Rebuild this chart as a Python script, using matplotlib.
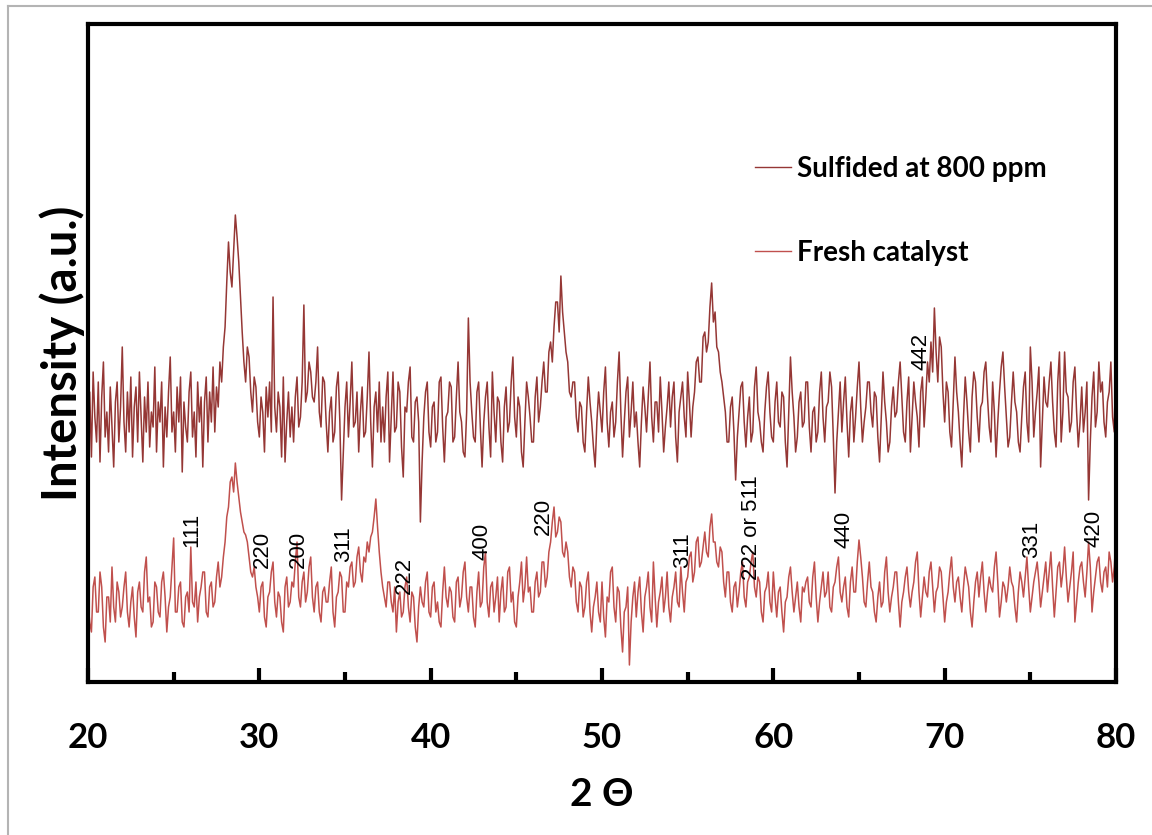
import matplotlib
matplotlib.use("Agg")
import matplotlib.pyplot as plt
from matplotlib.lines import Line2D
from matplotlib.ticker import MultipleLocator
import numpy as np

# 2-theta grid: 20 to 80 deg, step 0.1
two_theta = np.round(np.arange(20.0, 80.0001, 0.1), 1)

sulfided = [
    250, 290, 225, 310, 265, 240, 300, 220, 285, 320, 245, 270, 230, 295, 255, 215, 280, 300, 240, 275,
    335, 260, 230, 290, 250, 305, 225, 275, 295, 240, 310, 265, 220, 285, 250, 300, 235, 270, 255, 315,
    230, 280, 260, 300, 215, 275, 245, 290, 325, 250, 270, 230, 295, 260, 305, 210, 280, 255, 240, 290,
    310, 245, 270, 225, 300, 260, 285, 215, 280, 305, 240, 290, 260, 315, 250, 295, 275, 320, 300, 335,
    355, 400, 440, 410, 395, 430, 467, 445, 420, 385, 350, 320, 300, 335, 325, 290, 270, 305, 295, 260,
    245, 285, 270, 230, 295, 265, 300, 250, 385, 275, 250, 290, 275, 225, 305, 220, 260, 290, 245, 275,
    240, 285, 305, 255, 265, 300, 377, 280, 290, 320, 310, 285, 280, 300, 335, 270, 255, 305, 300, 260,
    230, 270, 285, 240, 250, 295, 310, 260, 182, 230, 275, 300, 245, 280, 320, 255, 260, 290, 230, 270,
    295, 245, 250, 285, 330, 260, 215, 275, 290, 250, 300, 240, 275, 240, 285, 310, 220, 265, 310, 250,
    255, 300, 290, 235, 205, 275, 270, 300, 315, 245, 240, 280, 285, 260, 160, 220, 265, 290, 300, 250,
    235, 275, 280, 240, 250, 300, 305, 255, 220, 265, 270, 300, 295, 240, 245, 285, 320, 270, 260, 230,
    225, 270, 364, 300, 270, 245, 240, 290, 300, 255, 215, 260, 285, 300, 255, 225, 310, 270, 240, 285,
    280, 240, 220, 275, 295, 250, 260, 300, 325, 265, 245, 285, 275, 230, 215, 260, 300, 285, 265, 240,
    240, 285, 305, 260, 275, 300, 320, 290, 290, 330, 340, 320, 355, 380, 380, 350, 406, 370, 350, 330,
    320, 290, 285, 300, 300, 265, 250, 280, 275, 240, 230, 270, 305, 280, 260, 235, 215, 260, 290, 270,
    250, 290, 315, 260, 235, 270, 280, 245, 260, 300, 330, 270, 225, 260, 290, 305, 245, 270, 300, 255,
    270, 240, 215, 260, 295, 275, 250, 285, 320, 265, 240, 280, 280, 250, 305, 270, 230, 255, 275, 300,
    255, 285, 300, 245, 220, 270, 285, 300, 265, 245, 310, 280, 245, 275, 290, 320, 325, 300, 300, 345,
    350, 330, 340, 375, 399, 360, 370, 335, 330, 310, 300, 285, 270, 240, 240, 275, 285, 250, 202, 245,
    270, 295, 300, 260, 235, 265, 285, 240, 250, 295, 315, 270, 260, 240, 230, 270, 295, 310, 270, 245,
    240, 280, 300, 260, 255, 290, 285, 240, 215, 270, 325, 290, 265, 230, 245, 280, 290, 255, 260, 300,
    300, 255, 230, 270, 275, 240, 250, 290, 310, 265, 240, 275, 280, 310, 295, 245, 189, 240, 270, 300,
    250, 280, 305, 260, 225, 270, 285, 240, 265, 295, 320, 275, 240, 260, 275, 300, 300, 270, 255, 290,
    285, 245, 220, 265, 310, 280, 260, 230, 240, 275, 295, 265, 270, 300, 320, 285, 250, 240, 280, 305,
    230, 265, 300, 280, 265, 235, 290, 305, 255, 285, 320, 300, 340, 310, 374, 330, 300, 345, 335, 290,
    260, 300, 290, 250, 235, 280, 325, 290, 270, 240, 215, 265, 305, 280, 250, 230, 285, 310, 300, 265,
    240, 275, 280, 310, 320, 285, 255, 240, 300, 270, 225, 260, 290, 315, 330, 295, 265, 235, 245, 280,
    310, 280, 270, 240, 230, 265, 295, 310, 260, 240, 335, 300, 245, 270, 290, 315, 215, 260, 305, 280,
    275, 300, 320, 280, 250, 235, 300, 330, 240, 270, 330, 290, 285, 250, 260, 300, 315, 270, 235, 260,
    295, 250, 270, 300, 182, 240, 285, 310, 255, 270, 320, 290, 300, 260, 245, 280, 290, 320, 265, 250,
    342,
]

fresh = [
    80, 60, 50, 95, 105, 70, 70, 110, 95, 55, 40, 85, 85, 60, 115, 75, 60, 100, 90, 65,
    75, 95, 110, 70, 55, 80, 95, 65, 45, 90, 100, 75, 70, 110, 125, 80, 85, 55, 60, 100,
    95, 70, 65, 100, 110, 85, 50, 75, 85, 115, 144, 70, 70, 95, 100, 60, 55, 85, 90, 70,
    135, 80, 75, 100, 60, 85, 95, 110, 110, 70, 65, 95, 100, 75, 80, 105, 120, 95, 105, 125,
    140, 165, 175, 200, 205, 190, 219, 200, 185, 170, 160, 150, 147, 140, 125, 110, 105, 115, 95, 85,
    70, 95, 100, 65, 55, 85, 90, 110, 120, 80, 65, 90, 85, 60, 50, 95, 105, 75, 80, 100,
    95, 120, 140, 85, 75, 100, 110, 80, 90, 115, 125, 85, 70, 95, 100, 70, 60, 90, 95, 80,
    80, 100, 115, 70, 55, 85, 90, 110, 105, 70, 70, 100, 95, 115, 120, 95, 100, 125, 135, 110,
    100, 125, 120, 140, 130, 145, 150, 165, 183, 155, 130, 110, 95, 85, 75, 100, 100, 80, 70, 95,
    50, 80, 90, 65, 70, 95, 105, 75, 60, 90, 85, 55, 40, 75, 95, 80, 75, 100, 110, 70,
    65, 95, 100, 70, 80, 60, 55, 90, 115, 85, 75, 95, 90, 65, 60, 100, 105, 75, 85, 110,
    120, 85, 70, 95, 95, 65, 55, 90, 110, 75, 80, 115, 130, 80, 65, 95, 100, 70, 85, 105,
    60, 90, 105, 70, 75, 110, 115, 80, 90, 60, 55, 85, 100, 120, 80, 95, 125, 90, 95, 70,
    70, 100, 110, 85, 90, 120, 120, 95, 105, 130, 140, 160, 175, 145, 150, 165, 160, 130, 125, 140,
    130, 105, 95, 115, 110, 80, 70, 100, 95, 65, 75, 100, 110, 70, 50, 75, 85, 100, 70, 60,
    100, 65, 45, 85, 80, 110, 115, 75, 60, 95, 90, 55, 30, 70, 75, 95, 17, 60, 85, 100,
    65, 90, 105, 70, 50, 85, 95, 110, 75, 60, 120, 85, 55, 80, 90, 105, 70, 85, 110, 75,
    60, 85, 95, 110, 80, 75, 115, 90, 70, 100, 105, 125, 130, 100, 110, 140, 145, 115, 120, 135,
    150, 130, 125, 155, 168, 140, 140, 120, 115, 135, 130, 100, 85, 110, 110, 80, 70, 95, 100, 75,
    90, 110, 120, 85, 75, 100, 105, 120, 130, 95, 85, 105, 100, 70, 60, 90, 95, 110, 80, 70,
    110, 85, 65, 90, 95, 70, 50, 80, 85, 105, 115, 90, 70, 85, 100, 75, 60, 95, 90, 100,
    105, 80, 75, 105, 120, 85, 60, 80, 95, 110, 85, 90, 110, 75, 70, 95, 100, 115, 125, 90,
    80, 95, 105, 75, 65, 100, 115, 90, 90, 120, 142, 125, 105, 80, 75, 100, 120, 95, 90, 70,
    60, 85, 100, 75, 80, 110, 125, 90, 70, 85, 95, 110, 110, 80, 55, 80, 90, 105, 115, 90,
    75, 90, 100, 120, 130, 90, 65, 85, 105, 90, 85, 110, 120, 95, 70, 90, 95, 115, 110, 85,
    60, 80, 90, 110, 125, 95, 80, 100, 105, 85, 70, 95, 115, 105, 95, 70, 55, 80, 100, 110,
    85, 105, 120, 90, 70, 90, 105, 95, 90, 115, 130, 100, 65, 80, 100, 95, 80, 95, 115, 100,
    95, 75, 60, 90, 110, 100, 85, 105, 125, 95, 70, 85, 100, 110, 120, 100, 75, 90, 105, 120,
    90, 110, 130, 95, 65, 90, 115, 120, 95, 110, 135, 105, 80, 95, 110, 130, 60, 80, 100, 115,
    120, 100, 85, 110, 140, 115, 70, 90, 105, 120, 125, 100, 90, 110, 115, 95, 130, 120, 100, 115,
    145,
]

# peak labels: text, 2theta position, height of the label's lower end
peak_labels = ["111", "220", "200", "311", "222", "400", "220",
               "311", "222 or 511", "440", "331", "420", "442"]
peak_pos = [26.05, 30.15, 32.3, 34.9, 38.45, 43.0, 46.55,
            54.7, 58.7, 64.1, 75.1, 78.7, 68.6]
peak_base = [135, 114, 114, 120, 88, 122, 147,
             114, 102, 134, 124, 135, 312]

fig = plt.figure(figsize=(11.52, 8.35), dpi=100)
ax = fig.add_axes([88 / 1152, 153 / 835, 1028 / 1152, 658 / 835])

ax.plot(two_theta, sulfided, color="#953735", lw=1.1, label="Sulfided at 800 ppm")
ax.plot(two_theta, fresh, color="#C0504D", lw=1.1, label="Fresh catalyst")

for txt, x, y in zip(peak_labels, peak_pos, peak_base):
    ax.text(x, y, txt, rotation=90, ha="center", va="bottom",
            fontsize=16, family="Liberation Sans")

ax.set_xlim(20, 80)
ax.set_ylim(0, 658)
ax.set_yticks([])
ax.xaxis.set_major_locator(MultipleLocator(10))
ax.xaxis.set_minor_locator(MultipleLocator(5))
ax.tick_params(axis="x", which="major", direction="in", length=10, width=3,
               pad=29, labelsize=25)
ax.tick_params(axis="x", which="minor", direction="in", length=7, width=3)
for lbl in ax.get_xticklabels():
    lbl.set_fontweight("bold")
    lbl.set_family("Lato")
for sp in ax.spines.values():
    sp.set_linewidth(3)

ax.set_xlabel("2 Θ", fontsize=28, fontweight="bold", family="Lato", labelpad=16)
ax.set_ylabel("Intensity (a.u.)", fontsize=34, fontweight="bold", family="Lato", labelpad=2)

leg = ax.legend(loc="upper left", bbox_to_anchor=(0.649, 0.80), frameon=False,
                handlelength=1.3, handletextpad=0.2, labelspacing=2.1,
                borderpad=0, borderaxespad=0,
                prop={"family": "Lato", "weight": "bold", "size": 20})
for h in leg.get_lines():
    h.set_linewidth(1.0)

# thin gray frame around the picture (left and top edges visible)
fig.add_artist(Line2D([8 / 1152, 8 / 1152], [0, 1 - 6 / 835], transform=fig.transFigure,
                      color="#b4b4b4", lw=1.5))
fig.add_artist(Line2D([8 / 1152, 1], [1 - 6 / 835, 1 - 6 / 835], transform=fig.transFigure,
                      color="#b4b4b4", lw=1.5))

fig.savefig("out.png", dpi=100)
